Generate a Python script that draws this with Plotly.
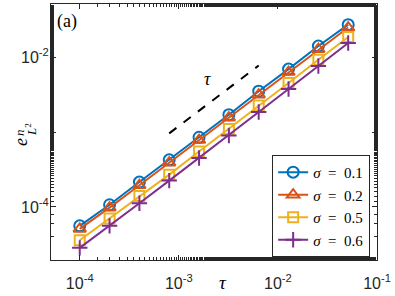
import plotly.graph_objects as go

tau = [1e-4, 2e-4, 4e-4, 8e-4, 1.6e-3, 3.2e-3, 6.4e-3, 1.28e-2, 2.56e-2, 5.12e-2]
err_s01 = [5.6e-5, 1.07e-4, 2.15e-4, 4.25e-4, 8.5e-4, 1.7e-3, 3.5e-3, 6.9e-3, 1.4e-2, 2.7e-2]
err_s02 = [5.1e-5, 9.8e-5, 1.95e-4, 3.9e-4, 7.8e-4, 1.55e-3, 3.15e-3, 6.3e-3, 1.27e-2, 2.47e-2]
err_s05 = [3.6e-5, 7.0e-5, 1.4e-4, 2.7e-4, 5.5e-4, 1.1e-3, 2.25e-3, 4.5e-3, 9.2e-3, 1.85e-2]
err_s06 = [2.85e-5, 5.6e-5, 1.12e-4, 2.25e-4, 4.5e-4, 9.0e-4, 1.85e-3, 3.75e-3, 7.6e-3, 1.54e-2]
ref_tau = [8e-4, 6.4e-3]
ref_err = [9.6e-4, 7.7e-3]
labels = ["<i>σ</i>\u2002=\u20020.1", "<i>σ</i>\u2002=\u20020.2",
          "<i>σ</i>\u2002=\u20020.5", "<i>σ</i>\u2002=\u20020.6"]
x_tickvals = [1e-4, 1e-3, 1e-2, 1e-1]
x_ticktext = ["10<sup>-4</sup>", "10<sup>-3</sup>", "10<sup>-2</sup>", "10<sup>-1</sup>"]
y_tickvals = [1e-4, 1e-3, 1e-2]
y_ticktext = ["10<sup>-4</sup>", "", "10<sup>-2</sup>"]

colors = ["#0072BD", "#D95319", "#EDB120", "#7E2F8E"]
symbols = ["circle-open", "triangle-up-open", "square-open", "cross-thin-open"]
sizes = [11, 11, 10, 11]
serif = "Liberation Serif"
sans = "Liberation Sans"

fig = go.Figure()
fig.add_trace(go.Scatter(x=ref_tau, y=ref_err, mode="lines", showlegend=False,
                         line=dict(color="black", width=2, dash="dash")))
for ys, c, s, sz, lab in zip([err_s01, err_s02, err_s05, err_s06], colors, symbols, sizes, labels):
    fig.add_trace(go.Scatter(x=tau, y=ys, mode="lines+markers", name=lab,
                             line=dict(color=c, width=2),
                             marker=dict(symbol=s, size=sz, color=c, line=dict(color=c, width=2))))

axis_common = dict(type="log", showgrid=False, zeroline=False, showline=True,
                   linecolor="#262626", linewidth=1, mirror="ticks", ticks="inside",
                   ticklen=5, tickcolor="#262626", automargin=False,
                   minor=dict(ticks="inside", ticklen=3, tickcolor="#262626", showgrid=False),
                   tickfont=dict(family=sans, size=16, color="#262626"))

fig.update_xaxes(range=[-4.29, -1.0], tickmode="array", tickvals=x_tickvals,
                 ticktext=x_ticktext, ticklabelstandoff=9, **axis_common)
fig.update_yaxes(range=[-4.707, -1.293], tickmode="array", tickvals=y_tickvals,
                 ticktext=y_ticktext, ticklabelstandoff=-2, **axis_common)

ann_font = lambda size: dict(family=serif, size=size, color="black")
fig.update_layout(
    width=395, height=296,
    margin=dict(l=51, r=18, t=4, b=36, autoexpand=False),
    paper_bgcolor="white", plot_bgcolor="white",
    legend=dict(x=0.979, y=0.012, xanchor="right", yanchor="bottom",
                bgcolor="white", bordercolor="#262626", borderwidth=1,
                font=dict(family=serif, size=15, color="black"),
                tracegroupgap=0),
    annotations=[
        dict(text="(a)", xref="paper", yref="paper", x=(67 - 51) / 326, y=(260 - 21) / 256,
             xanchor="center", yanchor="middle", showarrow=False, font=ann_font(18)),
        dict(text="<i>τ</i>", xref="x", yref="y", x=-2.707, y=-2.293,
             xanchor="center", yanchor="middle", showarrow=False, font=ann_font(18)),
        dict(text="<i>τ</i>", xref="paper", yref="paper", x=(223 - 51) / 326, y=-(282 - 260) / 256,
             xanchor="center", yanchor="middle", showarrow=False, font=ann_font(19)),
        dict(text="<i>e</i>", xref="paper", yref="paper", x=-(51 - 21) / 326, y=(260 - 142) / 256,
             xanchor="center", yanchor="middle", showarrow=False, textangle=-90, font=ann_font(18)),
        dict(text="<i>n</i>", xref="paper", yref="paper", x=-(51 - 19) / 326, y=(260 - 133) / 256,
             xanchor="center", yanchor="middle", showarrow=False, textangle=-90, font=ann_font(13)),
        dict(text="<i>L</i><sup>2</sup>", xref="paper", yref="paper", x=-(51 - 31) / 326, y=(260 - 130) / 256,
             xanchor="center", yanchor="middle", showarrow=False, textangle=-90, font=ann_font(13)),
    ],
)

fig.write_html("out.html", config={"displayModeBar": False},
               post_script="document.body.style.margin='0';document.body.style.padding='0';")
